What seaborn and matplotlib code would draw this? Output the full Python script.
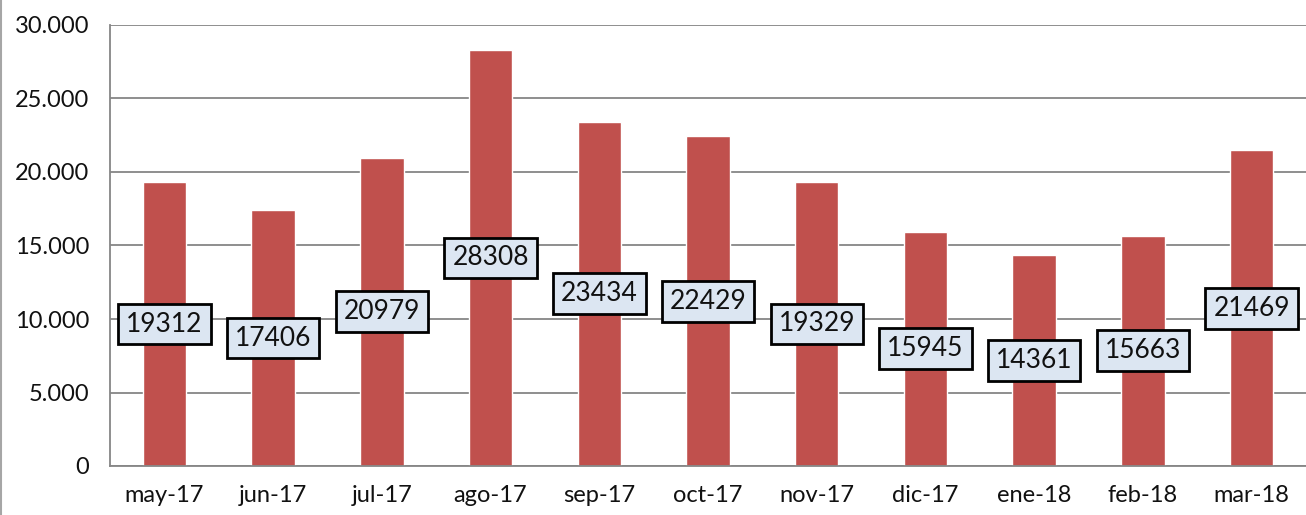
import matplotlib
matplotlib.use("Agg")
import matplotlib.pyplot as plt
import seaborn as sns
import pandas as pd
from matplotlib.lines import Line2D
from matplotlib.ticker import FuncFormatter, FixedLocator

#data
meses = ["may-17", "jun-17", "jul-17", "ago-17", "sep-17", "oct-17",
         "nov-17", "dic-17", "ene-18", "feb-18", "mar-18"]
valores = [19312, 17406, 20979, 28308, 23434, 22429, 19329, 15945, 14361, 15663, 21469]

df = pd.DataFrame({"mes": meses, "valor": valores})

sns.set_style("white")
plt.rcParams["font.family"] = ["Lato", "DejaVu Sans"]

fig = plt.figure(figsize=(13.06, 5.15), dpi=100)
ax = fig.add_axes([110/1306, 1-466/515, 1-110/1306, (466-25)/515])

sns.barplot(data=df, x="mes", y="valor", color="#C0504D", saturation=1,
            width=0.4, ax=ax)

ax.set_ylim(0, 30000)
ax.set_xlim(-0.5, len(meses)-0.5)
ax.set_yticks(range(0, 30001, 5000))
ax.yaxis.set_major_formatter(FuncFormatter(lambda v, p: f"{int(v):,}".replace(",", ".")))
ax.grid(axis="y", color="#868686", linewidth=1.3)
ax.set_axisbelow(True)
ax.set_xlabel("")
ax.set_ylabel("")

for s in ["top", "right"]:
    ax.spines[s].set_visible(False)
for s in ["left", "bottom"]:
    ax.spines[s].set_color("#868686")
    ax.spines[s].set_linewidth(1.3)

#ticks between categories on x
ax.xaxis.set_major_locator(FixedLocator(range(len(meses))))
ax.xaxis.set_minor_locator(FixedLocator([i-0.5 for i in range(len(meses)+1)]))
ax.tick_params(axis="x", which="major", length=0, labelsize=17, pad=14, labelcolor="#111111")
ax.tick_params(axis="x", which="minor", length=6, width=1.3, color="#868686", direction="out")
ax.tick_params(axis="y", length=7, width=1.3, color="#868686", labelsize=17, pad=8, labelcolor="#111111")

#value boxes at half height
for i, v in enumerate(valores):
    ax.text(i, v/2, str(v), ha="center", va="center", fontsize=19, color="#111111",
            bbox=dict(boxstyle="square,pad=0.3", facecolor="#DCE6F2",
                      edgecolor="black", linewidth=2))

fig.add_artist(Line2D([1/1306, 1/1306], [0, 1], color="#A6A6A6", linewidth=1.5,
                      transform=fig.transFigure))

plt.savefig("out.png", dpi=100)
